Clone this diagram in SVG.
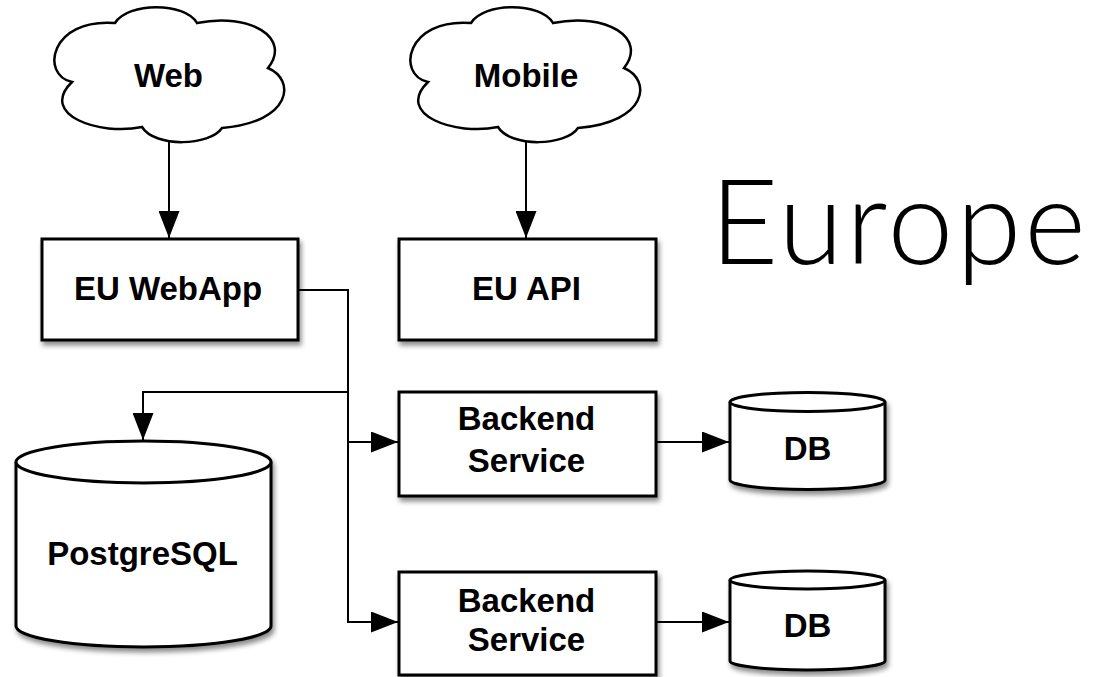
<svg xmlns="http://www.w3.org/2000/svg" width="1094" height="677" viewBox="0 0 1094 677">
  <defs>
    <filter id="shadow" x="-10%" y="-10%" width="130%" height="140%">
      <feDropShadow dx="2" dy="4" stdDeviation="2.5" flood-color="#000" flood-opacity="0.45"/>
    </filter>
    <marker id="arrow" markerUnits="userSpaceOnUse" markerWidth="27" markerHeight="21" refX="27" refY="10.5" orient="auto">
      <path d="M0,0 L27,10.5 L0,21 Z" fill="#000"/>
    </marker>
    <path id="cloudShape" d="M72,82 C40,75 50,18 115,23 C128,2 185,2 197,23 C250,12 292,38 268,68 C296,80 292,122 222,128 C210,146 155,148 142,127 C100,136 38,115 72,82 Z"/>
  </defs>
  <style>
    .box { fill: #fff; stroke: #000; stroke-width: 3; }
    .cloud { fill: #fff; stroke: #000; stroke-width: 2.5; }
    .cyl { fill: #fff; stroke: #000; stroke-width: 3; }
    .conn { fill: none; stroke: #000; stroke-width: 2; }
    .lbl { font-family: "Liberation Sans", Arial, Helvetica, sans-serif; font-weight: bold; font-size: 33px; fill: #000; text-anchor: middle; }
    .title { font-family: Lato, "Liberation Sans", Helvetica, sans-serif; font-weight: 300; font-size: 118px; letter-spacing: 3px; fill: #000; }
  </style>
  <rect width="1094" height="677" fill="#fff"/>

  <g id="connectors">
    <path class="conn" d="M169,140 V238" marker-end="url(#arrow)"/>
    <path class="conn" d="M526,140 V238" marker-end="url(#arrow)"/>
    <path class="conn" d="M298,290 H348 V442 H398" marker-end="url(#arrow)"/>
    <path class="conn" d="M348,442 V622 H398" marker-end="url(#arrow)"/>
    <path class="conn" d="M348,392 H143 V440" marker-end="url(#arrow)"/>
    <path class="conn" d="M656,442 H729" marker-end="url(#arrow)"/>
    <path class="conn" d="M656,622 H729" marker-end="url(#arrow)"/>
  </g>

  <g id="web">
    <use href="#cloudShape" class="cloud"/>
    <text class="lbl" x="168.5" y="87">Web</text>
  </g>
  <g id="mobile">
    <use href="#cloudShape" class="cloud" transform="translate(356,0)"/>
    <text class="lbl" x="526" y="87">Mobile</text>
  </g>

  <g id="eu-webapp">
    <rect class="box" x="42" y="239" width="256" height="101" filter="url(#shadow)"/>
    <text class="lbl" x="168" y="300">EU WebApp</text>
  </g>
  <g id="eu-api">
    <rect class="box" x="399" y="239" width="257" height="101" filter="url(#shadow)"/>
    <text class="lbl" x="526.5" y="300">EU API</text>
  </g>

  <g id="postgresql">
    <g filter="url(#shadow)">
      <path class="cyl" d="M16,462 V626 A127.5,21 0 0 0 271,626 V462 A127.5,21 0 0 0 16,462 Z"/>
      <path class="cyl" d="M16,462 A127.5,21 0 0 0 271,462" fill="none"/>
    </g>
    <text class="lbl" x="142.5" y="565">PostgreSQL</text>
  </g>

  <g id="backend1">
    <rect class="box" x="399" y="392" width="257" height="104" filter="url(#shadow)"/>
    <text class="lbl" x="526.5" y="430">Backend</text>
    <text class="lbl" x="526.5" y="472">Service</text>
  </g>
  <g id="db1">
    <g filter="url(#shadow)">
      <path class="cyl" d="M730,402 V480 A77.5,9.5 0 0 0 885,480 V402 A77.5,9.5 0 0 0 730,402 Z"/>
      <path class="cyl" d="M730,402 A77.5,9.5 0 0 0 885,402" fill="none"/>
    </g>
    <text class="lbl" x="807.5" y="460">DB</text>
  </g>

  <g id="backend2">
    <rect class="box" x="399" y="572" width="257" height="103" filter="url(#shadow)"/>
    <text class="lbl" x="526.5" y="612">Backend</text>
    <text class="lbl" x="526.5" y="651">Service</text>
  </g>
  <g id="db2">
    <g filter="url(#shadow)">
      <path class="cyl" d="M730,580 V661 A77.5,9 0 0 0 885,661 V580 A77.5,9 0 0 0 730,580 Z"/>
      <path class="cyl" d="M730,580 A77.5,9 0 0 0 885,580" fill="none"/>
    </g>
    <text class="lbl" x="807.5" y="637">DB</text>
  </g>

  <g id="europe">
    <text class="title" x="710" y="264">Europe</text>
  </g>
</svg>
